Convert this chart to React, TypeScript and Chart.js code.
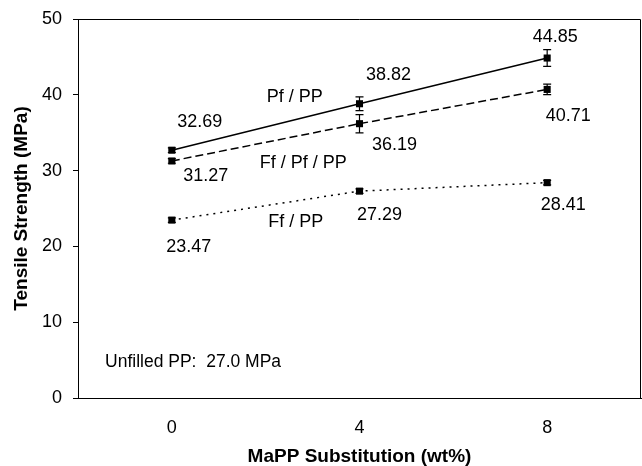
import React, { useEffect, useRef } from "react";
import { Chart, registerables } from "chart.js";

Chart.register(...registerables);

// ---- data ----
const categories = ["0", "4", "8"];
const pfPP = [32.69, 38.82, 44.85];
const ffPfPP = [31.27, 36.19, 40.71];
const ffPP = [23.47, 27.29, 28.41];
const pfPPErr = [0.3, 0.9, 1.1];
const ffPfPPErr = [0.3, 1.2, 0.7];
const ffPPErr = [0.3, 0.3, 0.3];
const yTicks = [0, 10, 20, 30, 40, 50];
const seriesNames = ["Pf / PP", "Ff / Pf / PP", "Ff / PP"];
const noteText = "Unfilled PP:  27.0 MPa";

// ---- style / placement (pixels offsets from points) ----
const labelOffsets = [
  [[28, -29], [29, -30], [8, -22]],
  [[34, 14], [35, 20], [21, 26]],
  [[17, 26], [20, 23], [16, 21]],
];
// series name annotations: [category index (fractional), value]
const namePos = [
  [0.655, 39.9],
  [0.7, 31.1],
  [0.66, 23.4],
];
const notePos = [-0.356, 4.8];

const FONT = "'Liberation Sans', Arial, Helvetica, sans-serif";

const annotate = {
  id: "annotate",
  afterDatasetsDraw(chart: any) {
    const { ctx, chartArea, scales } = chart;
    const xs = scales.x;
    const ys = scales.y;
    ctx.save();
    // top & right frame
    ctx.strokeStyle = "#000";
    ctx.lineWidth = 1;
    ctx.beginPath();
    ctx.moveTo(chartArea.left, chartArea.top + 0.5);
    ctx.lineTo(chartArea.right - 0.5, chartArea.top + 0.5);
    ctx.lineTo(chartArea.right - 0.5, chartArea.bottom);
    ctx.stroke();

    // error bars
    const series = [pfPP, ffPfPP, ffPP];
    const errs = [pfPPErr, ffPfPPErr, ffPPErr];
    ctx.lineWidth = 1.2;
    series.forEach((s, si) => {
      s.forEach((v, i) => {
        const x = xs.getPixelForValue(i);
        const y1 = ys.getPixelForValue(v + errs[si][i]);
        const y2 = ys.getPixelForValue(v - errs[si][i]);
        ctx.beginPath();
        ctx.moveTo(x, y1);
        ctx.lineTo(x, y2);
        ctx.moveTo(x - 4, y1);
        ctx.lineTo(x + 4, y1);
        ctx.moveTo(x - 4, y2);
        ctx.lineTo(x + 4, y2);
        ctx.stroke();
      });
    });

    // value labels
    ctx.fillStyle = "#000";
    ctx.font = `18px ${FONT}`;
    ctx.textAlign = "center";
    ctx.textBaseline = "middle";
    series.forEach((s, si) => {
      s.forEach((v, i) => {
        const x = xs.getPixelForValue(i) + labelOffsets[si][i][0];
        const y = ys.getPixelForValue(v) + labelOffsets[si][i][1] + 1;
        ctx.fillText(v.toFixed(2), x, y);
      });
    });

    // series names
    seriesNames.forEach((n, i) => {
      ctx.fillText(n, xs.getPixelForValue(namePos[i][0]), ys.getPixelForValue(namePos[i][1]) + 1);
    });

    // note
    ctx.font = `17.5px ${FONT}`;
    ctx.textAlign = "left";
    ctx.fillText(noteText, xs.getPixelForValue(notePos[0]), ys.getPixelForValue(notePos[1]) + 1);
    ctx.restore();
  },
};

export default function App() {
  const ref = useRef<HTMLCanvasElement>(null);
  useEffect(() => {
    const canvas = ref.current;
    if (!canvas) return;
    const common = {
      borderColor: "#000",
      backgroundColor: "#000",
      borderWidth: 1.5,
      pointStyle: "rect",
      pointRadius: 5,
      pointBackgroundColor: "#000",
      pointBorderWidth: 0,
    };
    const chart = new Chart(canvas, {
      type: "line",
      data: {
        labels: categories,
        datasets: [
          { ...common, label: seriesNames[0], data: pfPP },
          { ...common, label: seriesNames[1], data: ffPfPP, borderDash: [8, 4] },
          { ...common, label: seriesNames[2], data: ffPP, borderDash: [2, 5] },
        ],
      },
      options: {
        animation: false,
        responsive: false,
        devicePixelRatio: 1,
        layout: { autoPadding: false, padding: { top: 19, right: 1, left: 0, bottom: 0 } },
        plugins: {
          legend: { display: false },
          tooltip: { enabled: false },
        },
        scales: {
          x: {
            type: "category",
            offset: true,
            grid: { display: true, drawOnChartArea: false, drawTicks: false },
            border: { display: true, color: "#000", width: 1 },
            ticks: { color: "#000", font: { family: FONT, size: 18 }, padding: 19 },
            title: {
              display: true,
              text: "MaPP Substitution (wt%)",
              color: "#000",
              font: { family: FONT, size: 19, weight: "bold", lineHeight: 1 },
              padding: { top: 0, bottom: 0 },
            },
            afterFit: (s: any) => {
              s.height = 68;
              s.paddingLeft = 0;
              s.paddingRight = 0;
            },
          },
          y: {
            min: 0,
            max: 50,
            afterBuildTicks: (s: any) => {
              s.ticks = yTicks.map((v) => ({ value: v }));
            },
            grid: { display: true, drawOnChartArea: false, drawTicks: true, tickLength: 5, color: "#000" },
            border: { display: true, color: "#000", width: 1 },
            ticks: { color: "#000", font: { family: FONT, size: 18 }, padding: 11 },
            title: {
              display: true,
              text: "Tensile Strength (MPa)",
              color: "#000",
              font: { family: FONT, size: 19, weight: "bold", lineHeight: 1 },
              padding: { top: 12.5, bottom: 0 },
            },
            afterFit: (s: any) => {
              s.width = 78;
              s.paddingTop = 0;
              s.paddingBottom = 0;
            },
          },
        },
      } as any,
      plugins: [annotate],
    });
    return () => chart.destroy();
  }, []);
  return (
    <div style={{ position: "fixed", left: 0, top: 0, width: 642, height: 466, background: "#fff" }}>
      <canvas ref={ref} width={642} height={466} style={{ display: "block" }} />
    </div>
  );
}
